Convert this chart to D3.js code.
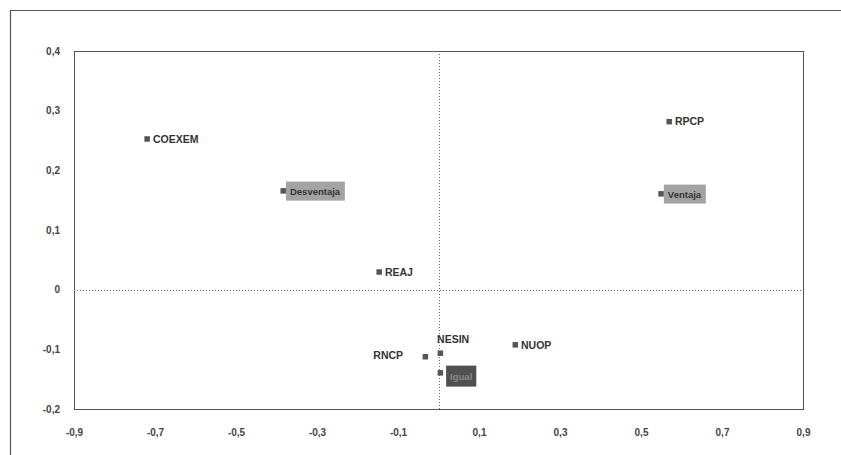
<!DOCTYPE html>
<html>
<head>
<meta charset="utf-8">
<script src="https://cdn.jsdelivr.net/npm/d3@7/dist/d3.min.js"></script>
<style>
  html, body { margin: 0; padding: 0; background: #fff; }
  svg { display: block; }
  text { font-family: "Liberation Sans", Arial, sans-serif; }
</style>
</head>
<body>
<svg id="chart" width="841" height="455"></svg>
<script>
// Point labels and their coordinates on the two dimensions
const labels = ["COEXEM", "Desventaja", "REAJ", "RPCP", "Ventaja", "NESIN", "RNCP", "Igual", "NUOP"];
const dim1 = [-0.72, -0.384, -0.147, 0.569, 0.549, 0.004, -0.033, 0.004, 0.189];
const dim2 = [0.253, 0.166, 0.030, 0.282, 0.161, -0.106, -0.112, -0.139, -0.092];
// Supplementary categories are drawn with a shaded label box
const kind = ["var", "cat", "var", "var", "cat", "var", "var", "catDark", "var"];
// Where the label sits relative to its marker
const place = ["right", "right", "right", "right", "right", "above", "left", "right", "right"];

const xTicks = [-0.9, -0.7, -0.5, -0.3, -0.1, 0.1, 0.3, 0.5, 0.7, 0.9];
const yTicks = [-0.2, -0.1, 0, 0.1, 0.2, 0.3, 0.4];

const svg = d3.select("#chart");
const plot = { left: 74, right: 803, top: 51, bottom: 409 };

const x = d3.scaleLinear().domain([-0.9, 0.9]).range([plot.left, plot.right]);
const y = d3.scaleLinear().domain([-0.2, 0.4]).range([plot.bottom, plot.top]);

const fmt = v => (Math.abs(v) < 1e-9 ? "0" : d3.format(".1f")(v).replace(".", ",").replace("−", "-"));

// Outer page frame (top and left edges)
svg.append("path")
  .attr("d", `M10.5,455 L10.5,10.5 L841,10.5`)
  .attr("fill", "none").attr("stroke", "#555").attr("stroke-width", 1.2);

// Plot frame
svg.append("rect")
  .attr("x", plot.left + 0.5).attr("y", plot.top + 0.5)
  .attr("width", plot.right - plot.left).attr("height", plot.bottom - plot.top)
  .attr("fill", "none").attr("stroke", "#555").attr("stroke-width", 1);

// Dotted origin lines
svg.append("line")
  .attr("x1", Math.round(x(0)) + 0.5).attr("x2", Math.round(x(0)) + 0.5)
  .attr("y1", plot.top).attr("y2", plot.bottom)
  .attr("stroke", "#666").attr("stroke-dasharray", "1,2");
svg.append("line")
  .attr("x1", plot.left).attr("x2", plot.right)
  .attr("y1", Math.round(y(0)) + 0.5).attr("y2", Math.round(y(0)) + 0.5)
  .attr("stroke", "#666").attr("stroke-dasharray", "1,2");

// Axes: labels only, no tick marks or domain lines
const xAxis = d3.axisBottom(x).tickValues(xTicks).tickFormat(fmt).tickSize(0).tickPadding(0);
const gx = svg.append("g").attr("transform", `translate(0,${plot.bottom + 20})`).call(xAxis);
gx.select(".domain").remove();
gx.selectAll("text").attr("font-size", 10).attr("font-weight", "bold").attr("fill", "#444")
  .attr("font-family", "'Liberation Sans', Arial, sans-serif");

const yAxis = d3.axisLeft(y).tickValues(yTicks).tickFormat(fmt).tickSize(0).tickPadding(0);
const gy = svg.append("g").attr("transform", `translate(${plot.left - 14},0)`).call(yAxis);
gy.select(".domain").remove();
gy.selectAll("text").attr("font-size", 10).attr("font-weight", "bold").attr("fill", "#444")
  .attr("font-family", "'Liberation Sans', Arial, sans-serif");

// Points
const pts = labels.map((l, i) => ({ label: l, x: dim1[i], y: dim2[i], kind: kind[i], place: place[i] }));

const g = svg.append("g");
g.selectAll("rect.marker").data(pts).join("rect")
  .attr("class", "marker")
  .attr("x", d => x(d.x) - 2.5).attr("y", d => y(d.y) - 2.5)
  .attr("width", 5.5).attr("height", 5.5)
  .attr("fill", "#555");

const lab = g.selectAll("g.lab").data(pts).join("g").attr("class", "lab");

lab.each(function(d) {
  const sel = d3.select(this);
  const px = x(d.x), py = y(d.y);
  const boxed = d.kind !== "var";
  let tx = px + 6, ty = py + 4, anchor = "start";
  if (d.place === "above") { tx = px + 13; ty = py - 10; anchor = "middle"; }
  if (d.place === "left") { tx = px - 22; ty = py + 3; anchor = "end"; }
  if (boxed) { tx = px + 7; ty = py + 4; }
  if (d.kind === "catDark") { ty = py + 7; tx = px + 10; }

  const t = sel.append("text")
    .attr("x", tx).attr("y", ty)
    .attr("text-anchor", anchor)
    .attr("font-size", boxed ? 9.5 : 10.5).attr("font-weight", "bold")
    .attr("fill", d.kind === "catDark" ? "#8a8a8a" : "#333")
    .text(d.label);

  if (boxed) {
    const bb = t.node().getBBox();
    const padX = 4, padY = d.kind === "catDark" ? 5 : 4;
    sel.insert("rect", "text")
      .attr("x", bb.x - padX).attr("y", bb.y - padY)
      .attr("width", bb.width + padX * 2).attr("height", bb.height + padY * 2)
      .attr("fill", d.kind === "catDark" ? "#505050" : "#a3a3a3");
  }
});
</script>
</body>
</html>
